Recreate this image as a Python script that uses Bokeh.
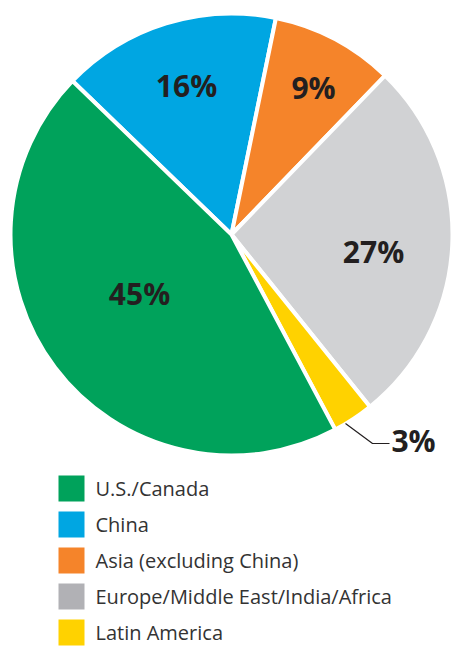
import numpy as np
from bokeh.plotting import figure
from bokeh.models import Range1d, ColumnDataSource
from bokeh.core.properties import value
from bokeh.embed import file_html
from bokeh.resources import INLINE

# Data (legend order)
regions = ["U.S./Canada", "China", "Asia (excluding China)",
           "Europe/Middle East/India/Africa", "Latin America"]
shares = [45, 16, 9, 27, 3]
slice_colors = ["#00a25b", "#00a6e2", "#f5842a", "#d1d2d4", "#ffd200"]
legend_colors = ["#00a25b", "#00a6e2", "#f5842a", "#b1b1b5", "#ffd200"]
labels = ["45%", "16%", "9%", "27%", "3%"]

# Clockwise pie order, starting from China
pie_order = [1, 2, 3, 4, 0]

W, H = 451, 648
p = figure(width=W, height=H, output_backend="svg", toolbar_location=None,
           x_range=Range1d(0, W), y_range=Range1d(-H, 0),
           min_border=0, outline_line_color=None)
p.axis.visible = False
p.grid.visible = False
p.background_fill_color = "white"
p.border_fill_color = "white"

cx, cy, r = 231, -234, 221
start_clock = -46.0  # degrees clockwise from top where China begins

starts, ends, cols = [], [], []
acc = start_clock
for i in pie_order:
    a0 = acc
    a1 = acc + shares[i] / sum(shares) * 360.0
    acc = a1
    starts.append(np.deg2rad(90 - a0))
    ends.append(np.deg2rad(90 - a1))
    cols.append(slice_colors[i])

src = ColumnDataSource(dict(x=[cx] * len(starts), y=[cy] * len(starts),
                            s=starts, e=ends, c=cols))
p.wedge(x="x", y="y", radius=r, start_angle="s", end_angle="e",
        direction="clock", fill_color="c", line_color="white",
        line_width=4, source=src)

# Percentage labels (positions in image coords)
lab_x = [139, 186, 313, 373, 413]
lab_y = [-293, -85, -87, -251, -440]
p.text(x=lab_x, y=lab_y, text=labels, text_font=value("Open Sans"),
       text_font_style="bold", text_font_size="30px", text_color="#231f20",
       text_align="center", text_baseline="middle")

# Leader line for 3%
p.line(x=[345, 372, 389], y=[-423, -443, -443], line_color="#231f20",
       line_width=1.2)

# Legend
row_y = [-488, -524, -560, -596, -632]
p.rect(x=[71] * 5, y=row_y, width=26, height=26, fill_color=legend_colors,
       line_color=None)
p.text(x=[95] * 5, y=row_y, text=regions, text_font=value("Open Sans"),
       text_font_size="20px", text_color="#333333",
       text_align="left", text_baseline="middle")

open("out.html", "w").write(file_html(p, INLINE))
